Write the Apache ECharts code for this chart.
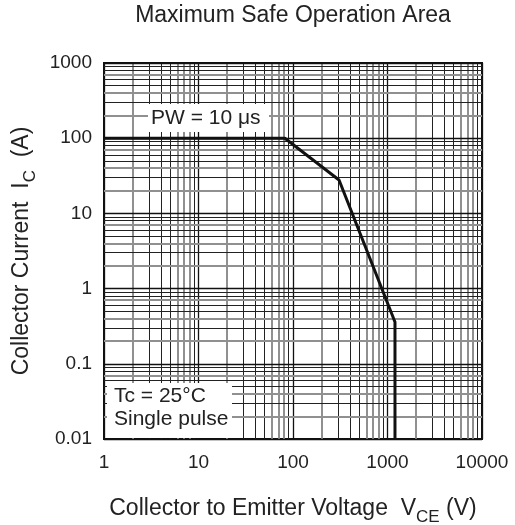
<!DOCTYPE html>
<html>
<head>
<meta charset="utf-8">
<script src="https://cdn.jsdelivr.net/npm/echarts@6/dist/echarts.min.js"></script>
<style>html,body{margin:0;padding:0;background:#fff}#c{width:515px;height:525px}</style>
</head>
<body>
<div id="c"></div>
<script>
// SOA boundary
const vce = [1, 82, 307, 1200, 1200];
const ic = [100, 100, 27.8, 0.36, 0.01];
// axis ticks
const xDecades = [1, 10, 100, 1000, 10000];
const yDecades = [0.01, 0.1, 1, 10, 100, 1000];
const minorMult = [2, 3, 4, 5, 6, 7, 8, 9];
// minor grid shade per multiplier (g = gray thick, d = dark thin)
const xMinorShade = ['g', 'd', 'd', 'd', 'g', 'g', 'g', 'd'];
const yMinorShade = ['g', 'd', 'g', 'd', 'd', 'g', 'd', 'd'];

const FONT = 'Liberation Sans, Arial, sans-serif';
const styleOf = s => s === 'g' ? {color: '#909090', width: 2, type: 'solid'} : {color: '#222', width: 1, type: 'solid'};
const majorStyle = {color: '#111', width: 1.3, type: 'solid'};

const gridLines = [];
xDecades.forEach((d, i) => {
  gridLines.push({xAxis: d, lineStyle: majorStyle});
  if (i < xDecades.length - 1) minorMult.forEach((m, k) => gridLines.push({xAxis: d * m, lineStyle: styleOf(xMinorShade[k])}));
});
yDecades.forEach((d, i) => {
  gridLines.push({yAxis: d, lineStyle: majorStyle});
  if (i < yDecades.length - 1) minorMult.forEach((m, k) => gridLines.push({yAxis: Number((d * m).toPrecision(6)), lineStyle: styleOf(yMinorShade[k])}));
});

const fmt = v => String(Number(v.toPrecision(6)));
const rich = {
  a: {fontSize: 23, color: '#222', fontFamily: FONT, lineHeight: 28, verticalAlign: 'bottom'},
  s: {fontSize: 17, color: '#222', fontFamily: FONT, lineHeight: 28, verticalAlign: 'bottom', padding: [0, 0, -6, 0]}
};
const chart = echarts.init(document.getElementById('c'), null, {renderer: 'canvas'});
chart.setOption({
  animation: false,
  textStyle: {fontFamily: FONT},
  grid: {left: 104, right: 33, top: 63, bottom: 86, outerBoundsMode: 'none', containLabel: false, show: true, borderColor: '#111', borderWidth: 2, backgroundColor: '#fff'},
  xAxis: {
    type: 'log', logBase: 10, min: 1, max: 10000,
    axisLine: {show: false}, axisTick: {show: false}, splitLine: {show: false}, minorSplitLine: {show: false},
    axisLabel: {formatter: fmt, color: '#222', fontSize: 19, margin: 14, fontFamily: FONT},
    name: '{a|Collector to Emitter Voltage  V}{s|CE}{a| (V)}',
    nameLocation: 'middle', nameGap: 53,
    nameTextStyle: {rich: rich}
  },
  yAxis: {
    type: 'log', logBase: 10, min: 0.01, max: 1000,
    axisLine: {show: false}, axisTick: {show: false}, splitLine: {show: false}, minorSplitLine: {show: false},
    axisLabel: {formatter: fmt, color: '#222', fontSize: 19, margin: 12, fontFamily: FONT},
    name: '{a|Collector Current  I}{s|C}{a|  (A)}',
    nameLocation: 'middle', nameGap: 66, nameRotate: 90,
    nameTextStyle: {rich: rich}
  },
  series: [
    {
      type: 'line', data: [], silent: true,
      markLine: {silent: true, symbol: ['none', 'none'], label: {show: false}, animation: false, data: gridLines, z: 1}
    },
    {
      type: 'line', z: 5,
      data: vce.map((x, i) => [x, ic[i]]),
      showSymbol: false, symbol: 'none',
      lineStyle: {color: '#111', width: 3}
    }
  ],
  graphic: [
    {type: 'text', z: 51, x: 293, y: 16, style: {text: 'Maximum Safe Operation Area', fontSize: 23, fontFamily: FONT, fill: '#222', align: 'center', verticalAlign: 'middle'}},
    {type: 'rect', z: 50, shape: {x: 148, y: 104, width: 121, height: 28}, style: {fill: '#fff'}},
    {type: 'text', z: 51, x: 151, y: 118, style: {text: 'PW = 10 μs', fontSize: 21, fontFamily: FONT, fill: '#222', verticalAlign: 'middle'}},
    {type: 'rect', z: 50, shape: {x: 107, y: 383, width: 125, height: 55}, style: {fill: '#fff'}},
    {type: 'text', z: 51, x: 114, y: 396, style: {text: 'Tc = 25°C', fontSize: 21, fontFamily: FONT, fill: '#222', verticalAlign: 'middle'}},
    {type: 'text', z: 51, x: 114, y: 419, style: {text: 'Single pulse', fontSize: 21, fontFamily: FONT, fill: '#222', verticalAlign: 'middle'}}
  ]
});
</script>
</body>
</html>
